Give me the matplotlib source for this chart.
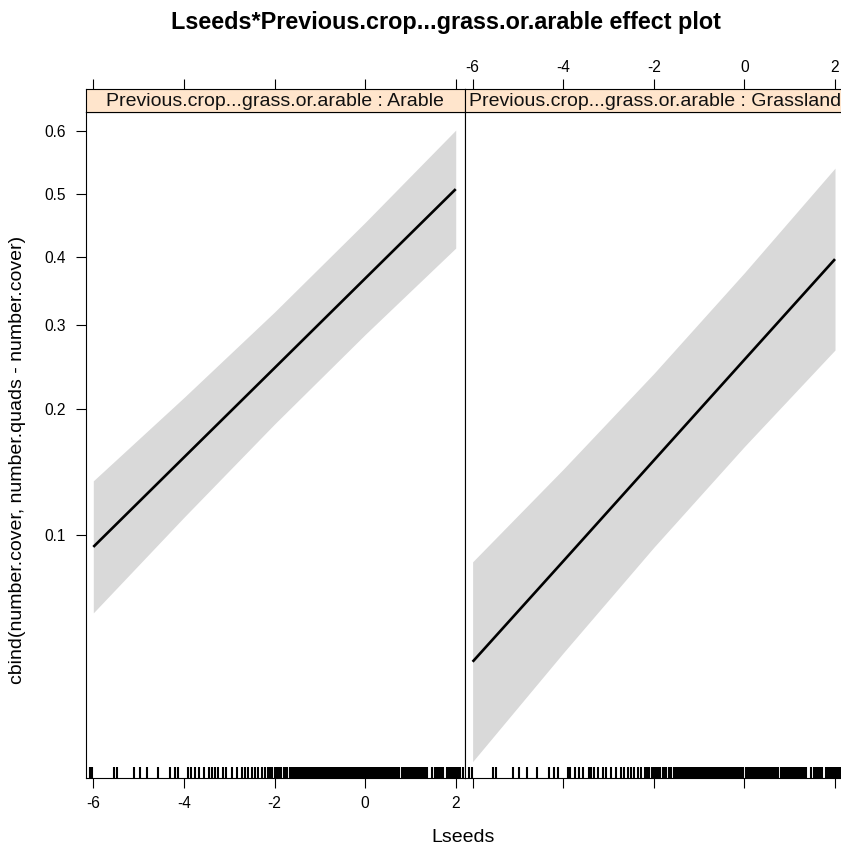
import matplotlib
matplotlib.use('Agg')
import matplotlib.pyplot as plt
from matplotlib.ticker import FixedLocator, NullLocator, FixedFormatter

plt.rcParams['font.family'] = ['Liberation Sans', 'DejaVu Sans']

# ---------------- data ----------------
lseeds_grid = [-6, -4, -2, 0, 2]
panel_levels = ['Arable', 'Grassland']

fit_arable = [0.0931, 0.1545, 0.2453, 0.3665, 0.5072]
lower_arable = [0.0629, 0.1105, 0.1847, 0.2874, 0.4131]
upper_arable = [0.1358, 0.2118, 0.3180, 0.4536, 0.6008]

fit_grass = [0.0467, 0.0856, 0.1520, 0.2554, 0.3960]
lower_grass = [0.0251, 0.0493, 0.0929, 0.1639, 0.2674]
upper_grass = [0.0853, 0.1448, 0.2388, 0.3752, 0.5409]

rug_lseeds = [
    -6.07, -6.02, -5.54, -5.48, -5.10, -4.97, -4.81, -4.57, -4.31, -4.20, -4.12,
    -3.90, -3.84, -3.75, -3.66, -3.56, -3.44, -3.39, -3.31, -3.24, -3.13, -3.06,
    -2.94, -2.83, -2.72, -2.65, -2.58, -2.50, -2.43, -2.36, -2.28,
    -2.20, -2.14, -2.10, -2.05, -1.99, -1.95, -1.90, -1.86, -1.80, -1.76, -1.72,
    -1.66, -1.62, -1.56, -1.52, -1.48, -1.44, -1.40, -1.36, -1.32, -1.28, -1.24, -1.20,
    -1.17, -1.14, -1.11, -1.08, -1.05, -1.02, -0.99, -0.96, -0.93, -0.90, -0.87,
    -0.84, -0.81, -0.78, -0.75, -0.72, -0.69, -0.66, -0.63, -0.60, -0.57, -0.54,
    -0.51, -0.48, -0.45, -0.42, -0.39, -0.36, -0.33, -0.30, -0.27, -0.24, -0.21,
    -0.18, -0.15, -0.12, -0.09, -0.06, -0.03, 0.03, 0.06, 0.09, 0.12, 0.15,
    0.18, 0.21, 0.24, 0.27, 0.30, 0.33, 0.36, 0.39, 0.42, 0.45, 0.48, 0.51, 0.54,
    0.57, 0.60, 0.63, 0.66, 0.69, 0.72, 0.75,
    0.81, 0.84, 0.87, 0.90, 0.93, 0.96, 0.99, 1.02, 1.05, 1.08, 1.11, 1.14, 1.17,
    1.20, 1.23, 1.26, 1.29, 1.32, 1.36, 1.47,
    1.54, 1.57, 1.60, 1.63, 1.66, 1.69, 1.72, 1.81, 1.84, 1.87, 1.90, 1.93,
    1.96, 1.99, 2.02, 2.06, 2.10, 2.17,
]

x_ticks = [-6, -4, -2, 0, 2]
x_tick_labels = ['-6', '-4', '-2', '0', '2']
y_ticks = [0.1, 0.2, 0.3, 0.4, 0.5, 0.6]
y_tick_labels = ['0.1', '0.2', '0.3', '0.4', '0.5', '0.6']

title = 'Lseeds*Previous.crop...grass.or.arable effect plot'
strip_prefix = 'Previous.crop...grass.or.arable : '
x_label = 'Lseeds'
y_label = 'cbind(number.cover, number.quads - number.cover)'

# ---------------- layout ----------------
W, H = 841, 849
fig = plt.figure(figsize=(W / 100, H / 100), dpi=100)
fig.patch.set_facecolor('white')


def px_axes(x0, x1, y0, y1):
    return fig.add_axes([x0 / W, 1 - y1 / H, (x1 - x0) / W, (y1 - y0) / H])


xlim = (-6.168, 2.205)
ylim = (0.0226, 0.628)
panel_w = 465 - 85.7
band_color = '#d9d9d9'
strip_color = '#ffe5cc'
fs_base = 14
fs_tick = 11.2

series = [
    (fit_arable, lower_arable, upper_arable),
    (fit_grass, lower_grass, upper_grass),
]

for i, level in enumerate(panel_levels):
    x0 = 85.7 + i * panel_w
    x1 = x0 + panel_w
    ax = px_axes(x0, x1, 112.3, 778.3)
    fit, lo, up = series[i]
    ax.set_yscale('logit')
    ax.fill_between(lseeds_grid, lo, up, color=band_color, lw=0, zorder=1)
    ax.plot(lseeds_grid, fit, color='black', lw=1.9, zorder=3, solid_capstyle='butt')
    ax.vlines(rug_lseeds, 0, 0.0174, transform=ax.get_xaxis_transform(),
              color='black', lw=1.5, zorder=4)
    ax.set_xlim(xlim)
    ax.set_ylim(ylim)
    for sp in ax.spines.values():
        sp.set_linewidth(0.8)
    ax.xaxis.set_major_locator(FixedLocator(x_ticks))
    ax.xaxis.set_minor_locator(NullLocator())
    ax.yaxis.set_minor_locator(NullLocator())
    ax.tick_params(axis='x', direction='out', length=7, width=0.8, top=False,
                   labelsize=fs_tick, pad=6)
    if i == 0:
        ax.xaxis.set_major_formatter(FixedFormatter(x_tick_labels))
        ax.yaxis.set_major_locator(FixedLocator(y_ticks))
        ax.yaxis.set_major_formatter(FixedFormatter(y_tick_labels))
        ax.tick_params(axis='y', direction='out', length=7, width=0.8,
                       labelsize=fs_tick, pad=7.5)
    else:
        ax.tick_params(axis='x', labelbottom=False)
        ax.yaxis.set_major_locator(FixedLocator([]))
        ax.tick_params(axis='y', left=False, labelleft=False)

    # strip
    sx = px_axes(x0, x1, 89.3, 112.3)
    sx.set_facecolor(strip_color)
    sx.set_xlim(xlim)
    sx.set_ylim(0, 1)
    for sp in sx.spines.values():
        sp.set_linewidth(0.8)
    sx.set_yticks([])
    sx.xaxis.set_major_locator(FixedLocator(x_ticks))
    sx.xaxis.tick_top()
    sx.tick_params(axis='x', direction='out', length=7, width=0.8,
                   labelsize=fs_tick, pad=3.5, bottom=False, labelbottom=False)
    if i == 1:
        sx.xaxis.set_major_formatter(FixedFormatter(x_tick_labels))
    else:
        sx.tick_params(axis='x', labeltop=False)
    sx.text(0.5, 0.48, strip_prefix + level, transform=sx.transAxes,
            ha='center', va='center', fontsize=fs_base, color='#111111')

fig.text(446 / W, 1 - 22 / H, title, ha='center', va='center',
         fontsize=16.8, fontweight='bold')
fig.text(463 / W, 1 - 837 / H, x_label, ha='center', va='center', fontsize=fs_base)
fig.text(18 / W, 1 - 460 / H, y_label, ha='center', va='center',
         fontsize=fs_base, rotation=90)

fig.savefig('out.png', dpi=100)
